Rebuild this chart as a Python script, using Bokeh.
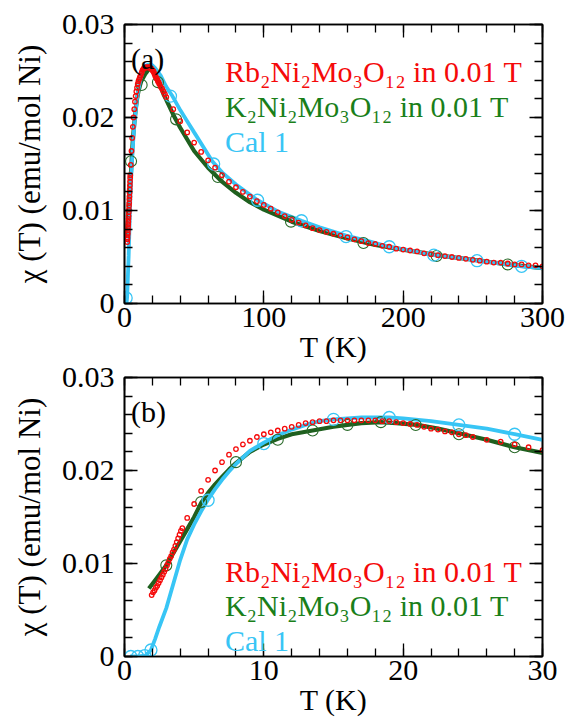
from bokeh.plotting import figure
from bokeh.models import (Range1d, LinearAxis, SingleIntervalTicker,
                          NumeralTickFormatter, CustomJSTickFormatter, Label)
from bokeh.layouts import column
from bokeh.embed import file_html
from bokeh.resources import INLINE

# ---------------- data ----------------
# Rb2Ni2Mo3O12 in 0.01 T (red dots)
rb_T = [1.95, 2.05, 2.15, 2.25, 2.35, 2.45, 2.55, 2.65, 2.75, 2.85, 2.95, 3.05,
        3.15, 3.25, 3.35, 3.45, 3.55, 3.65, 3.75, 3.85, 3.95, 4.05, 4.15,
        4.5, 5.0, 5.5, 6.0, 6.5, 7.0, 7.5, 8.0, 8.5, 9.0, 9.5, 10.0, 10.5, 11.0,
        11.5, 12.0, 12.5, 13.0, 13.5, 14.0, 14.5, 15.0, 15.5, 16.0, 16.5, 17.0,
        17.5, 18.0, 18.5, 19.0, 19.5, 20.0, 20.5, 21.0, 21.5, 22.0, 22.5, 23.0,
        23.5, 24.0, 24.5, 25.0, 26.0, 27.0, 28.0, 29.0, 30.0,
        35, 40, 45, 50, 55, 60, 65, 70, 75, 80, 85, 90, 95, 100, 105, 110, 115,
        120, 125, 130, 135, 140, 145, 150, 155, 160, 165, 170, 175, 180, 185,
        190, 195, 200, 205, 210, 215, 220, 225, 230, 235, 240, 245, 250, 255,
        260, 265, 270, 275, 280, 285, 290, 295, 300]
rb_chi = [0.0066, 0.0069, 0.0071, 0.0074, 0.0076, 0.0079, 0.0082, 0.0085, 0.0088,
          0.0091, 0.0094, 0.0098, 0.0101, 0.0105, 0.0108, 0.0112, 0.0115, 0.0119,
          0.0123, 0.0127, 0.0131, 0.0135, 0.0138,
          0.0149, 0.0164, 0.0178, 0.0190, 0.0200, 0.0209, 0.0217, 0.0223, 0.0228,
          0.0232, 0.0236, 0.0239, 0.0241, 0.0243, 0.0245, 0.0247, 0.0249, 0.0251,
          0.0252, 0.0253, 0.0253, 0.0254, 0.0254, 0.0254, 0.0254, 0.0254, 0.0254,
          0.0254, 0.0253, 0.0253, 0.0252, 0.0251, 0.0250, 0.0249, 0.0247, 0.0245,
          0.0244, 0.0242, 0.0241, 0.0239, 0.0238, 0.0236, 0.0233, 0.0231, 0.0228,
          0.0225, 0.0222,
          0.0209, 0.0196, 0.0184, 0.0173, 0.0163, 0.0154, 0.0146, 0.0138, 0.0131,
          0.0125, 0.0120, 0.0115, 0.0110, 0.0106, 0.0102, 0.0098, 0.0094, 0.0090,
          0.0087, 0.0084, 0.0081, 0.0079, 0.0077, 0.0075, 0.0073, 0.0071, 0.0069,
          0.0067, 0.0065, 0.0064, 0.0062, 0.0061, 0.0059, 0.0058, 0.0057, 0.0056,
          0.0054, 0.0053, 0.0052, 0.0051, 0.0050, 0.0049, 0.0048, 0.0047, 0.0046,
          0.0045, 0.0044, 0.0044, 0.0043, 0.0042, 0.0042, 0.0041, 0.0041, 0.0040]

# K2Ni2Mo3O12 in 0.01 T (green line)
k_T = [1.75, 2.0, 2.5, 3.0, 3.5, 4.0, 4.5, 5.0, 5.5, 6.0, 6.5, 7.0, 7.5, 8.0,
       9.0, 10.0, 11.0, 12.0, 13.5, 15.0, 16.0, 17.0, 18.4, 19.5, 21.0, 22.5,
       24.0, 26.0, 28.0, 30.0, 35, 40, 50, 60, 70, 80, 90, 100, 120, 140, 160,
       180, 200, 224, 250, 275, 300]
k_chi = [0.0073, 0.0078, 0.0088, 0.0098, 0.0111, 0.0124, 0.0137, 0.0150, 0.0165,
         0.0176, 0.0185, 0.0193, 0.0201, 0.0208, 0.0220, 0.0228, 0.0234, 0.0239,
         0.0243, 0.0247, 0.0249, 0.0251, 0.0252, 0.0251, 0.0249, 0.0245, 0.0240,
         0.0233, 0.0225, 0.0219, 0.0203, 0.0189, 0.0164, 0.0146, 0.0131, 0.0119,
         0.0109, 0.0101, 0.0088, 0.0078, 0.0070, 0.0063, 0.0058, 0.0052, 0.0047,
         0.0042, 0.0038]
# green open circles, panel (a) and panel (b)
k_mark_T_a = [4.7, 12.3, 24.0, 37.0, 67.0, 119.5, 171.5, 224.0, 275.0]
k_mark_chi_a = [0.0153, 0.0235, 0.0238, 0.0198, 0.0136, 0.0088, 0.0065, 0.0051, 0.0042]
k_mark_T_b = [3.0, 5.5, 8.0, 11.0, 13.5, 16.0, 18.4, 20.9, 24.0, 28.0]
k_mark_chi_b = [0.0098, 0.0166, 0.0209, 0.0233, 0.0243, 0.0249, 0.0252, 0.0249, 0.0239, 0.0225]

# Cal 1 (cyan line)
cal_T = [0.4, 1.0, 1.5, 1.9, 2.2, 2.5, 3.0, 3.5, 4.0, 4.5, 5.0, 5.5, 6.0, 6.5,
         7.0, 7.5, 8.0, 9.0, 10.0, 11.0, 12.0, 13.0, 14.0, 15.0, 16.0, 17.0,
         18.0, 19.0, 20.0, 22.0, 24.0, 26.0, 28.0, 30.0, 34, 40, 45, 50, 63, 70,
         80, 95.6, 110, 127, 140, 159, 175, 190, 205, 222, 240, 253, 270, 285, 300]
cal_chi = [0.0, 0.0, 0.0001, 0.0007, 0.0019, 0.0032, 0.0052, 0.0078, 0.0104,
           0.0126, 0.0142, 0.0156, 0.0169, 0.0180, 0.0190, 0.0199, 0.0207, 0.0221,
           0.0230, 0.0238, 0.0244, 0.0249, 0.0253, 0.0255, 0.0256, 0.0257, 0.0257,
           0.0257, 0.0256, 0.0253, 0.0249, 0.0245, 0.0239, 0.0233, 0.0224, 0.0208,
           0.0196, 0.0184, 0.0153, 0.0141, 0.0128, 0.0111, 0.0099, 0.0089, 0.0082,
           0.0073, 0.0067, 0.0061, 0.0057, 0.0052, 0.0049, 0.0046, 0.0043, 0.0040,
           0.0038]
cal_mark_T_a = [1.2, 33.0, 64.0, 95.5, 127.0, 159.0, 190.0, 222.0, 253.0, 285.0]
cal_mark_chi_a = [0.0006, 0.0223, 0.0150, 0.0111, 0.0089, 0.0072, 0.0061, 0.0052, 0.0046, 0.0040]
cal_mark_T_b = [0.45, 0.95, 1.45, 1.9, 6.0, 10.0, 15.0, 19.0, 24.0, 28.0]
cal_mark_chi_b = [0.0, 0.0, 0.0001, 0.0007, 0.0168, 0.0229, 0.0255, 0.0257, 0.0249, 0.0239]

legend_texts = ["Rb\u2082Ni\u2082Mo\u2083O\u2081\u2082 in 0.01 T",
                "K\u2082Ni\u2082Mo\u2083O\u2081\u2082 in 0.01 T",
                "Cal 1"]
x_label = "T (K)"
y_label = "\u03c7 (T) (emu/mol Ni)"
y_ticks_interval = 0.01

# ---------------- style ----------------
FONT = "Liberation Serif"
FS = "30px"
RED = "#F50A0A"
GREEN_TXT = "#1A7F1A"
GREEN_LINE = "#1F601F"
CYAN = "#38C5F5"


def style_axis(ax, show_labels):
    ax.axis_line_color = "black"
    ax.axis_line_width = 1.6
    ax.major_tick_line_color = "black"
    ax.minor_tick_line_color = "black"
    ax.major_tick_line_width = 1.3
    ax.minor_tick_line_width = 1.3
    ax.major_tick_in = 13
    ax.major_tick_out = 0
    ax.minor_tick_in = 8
    ax.minor_tick_out = 0
    if show_labels:
        ax.major_label_text_font = FONT
        ax.major_label_text_font_size = FS
        ax.major_label_text_color = "black"
        ax.axis_label_text_font = FONT
        ax.axis_label_text_font_size = FS
        ax.axis_label_text_font_style = "normal"
        ax.axis_label_text_color = "black"
    else:
        ax.formatter = CustomJSTickFormatter(code="return ''")
        ax.major_label_text_font_size = "1px"
        ax.major_label_standoff = 0


def make_panel(xmax, xint, height, top, bottom, tag, mark_k, mark_c, leg_y,
               leg_x, tag_x):
    p = figure(width=582, height=height, x_range=Range1d(0, xmax),
               y_range=Range1d(0, 0.03), output_backend="svg",
               toolbar_location=None, min_border_left=124, min_border_right=40,
               min_border_top=top, min_border_bottom=bottom)
    p.xgrid.visible = False
    p.ygrid.visible = False
    p.outline_line_color = "black"
    p.outline_line_width = 1.6
    p.background_fill_color = "white"
    p.border_fill_alpha = 0

    p.xaxis.ticker = SingleIntervalTicker(interval=xint, num_minor_ticks=5)
    p.yaxis.ticker = SingleIntervalTicker(interval=y_ticks_interval, num_minor_ticks=5)
    p.xaxis.formatter = NumeralTickFormatter(format="0")
    p.yaxis.formatter = NumeralTickFormatter(format="0.[00]")
    style_axis(p.xaxis[0], True)
    style_axis(p.yaxis[0], True)
    p.xaxis.major_label_standoff = 4
    p.yaxis.major_label_standoff = 10
    p.xaxis.axis_label = x_label
    p.yaxis.axis_label = y_label
    p.yaxis.axis_label_text_font_size = "31px"
    p.xaxis.axis_label_standoff = 0
    p.yaxis.axis_label_standoff = 12

    top_ax = LinearAxis(ticker=SingleIntervalTicker(interval=xint, num_minor_ticks=5))
    right_ax = LinearAxis(ticker=SingleIntervalTicker(interval=y_ticks_interval, num_minor_ticks=5))
    style_axis(top_ax, False)
    style_axis(right_ax, False)
    p.add_layout(top_ax, "above")
    p.add_layout(right_ax, "right")

    # curves
    p.line(k_T, k_chi, line_color=GREEN_LINE, line_width=4.2)
    p.line(cal_T, cal_chi, line_color=CYAN, line_width=3.8)
    p.scatter(mark_k[0], mark_k[1], marker="circle", size=11, fill_alpha=0,
              line_color="#2A6A2A", line_width=1.1)
    p.scatter(mark_c[0], mark_c[1], marker="circle", size=12, fill_alpha=0,
              line_color=CYAN, line_width=1.3)
    p.scatter(rb_T, rb_chi, marker="circle", size=4.5, fill_alpha=0,
              line_color=RED, line_width=1.3)

    # legend texts
    for txt, col, yy in zip(legend_texts, [RED, GREEN_TXT, CYAN], leg_y):
        p.add_layout(Label(x=leg_x, y=yy, text=txt, text_font=FONT,
                           text_font_size=FS, text_color=col,
                           text_align="left", text_baseline="alphabetic"))
    # panel tag
    p.add_layout(Label(x=tag_x, y=0.02634, text=tag, text_font=FONT,
                       text_font_size=FS, text_color="black",
                       text_align="left", text_baseline="alphabetic"))
    return p


# panel (a): canvas 0..375, frame 24..303
pa = make_panel(300, 100, 375, 24, 72, "(a)",
                (k_mark_T_a, k_mark_chi_a), (cal_mark_T_a, cal_mark_chi_a),
                [0.02495, 0.02118, 0.01742], 72.1, 4.7)
# panel (b): canvas 358..723 (overlaps a by 17 px), frame 377..656
pb = make_panel(30, 10, 365, 19, 67, "(b)",
                (k_mark_T_b, k_mark_chi_b), (cal_mark_T_b, cal_mark_chi_b),
                [0.00917, 0.00548, 0.00172], 7.21, 0.47)
pb.margin = (-17, 0, 0, 0)

layout = column(pa, pb, spacing=0)
open("out.html", "w").write(file_html(layout, INLINE))
